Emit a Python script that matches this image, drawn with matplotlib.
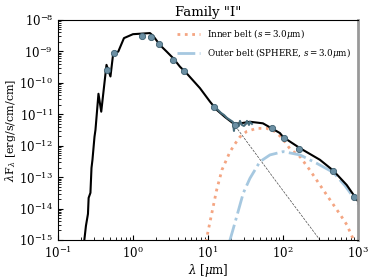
import numpy as np
import matplotlib
matplotlib.use('Agg')
import matplotlib.pyplot as plt

plt.rcParams['font.family'] = 'DejaVu Serif'
plt.rcParams['mathtext.fontset'] = 'dejavuserif'

# total model (star + belts), log10 values
tot_lx = [-0.653, -0.627, -0.60, -0.591, -0.567, -0.553, -0.54, -0.513, -0.50, -0.46,
          -0.423, -0.353, -0.30, -0.263, -0.196, -0.12, 0.0, 0.227, 0.27, 0.36,
          0.45, 0.537, 0.627, 0.716, 0.893, 1.027, 1.116, 1.227, 1.347, 1.46,
          1.56, 1.733, 1.96, 2.004, 2.227, 2.493, 2.67, 2.85, 3.004]
tot_ly = [-15.10, -14.55, -14.17, -13.66, -13.50, -12.71, -12.45, -11.72, -11.50, -10.35,
          -10.92, -9.43, -9.80, -9.06, -9.01, -8.58, -8.455, -8.42, -8.51, -8.80,
          -9.01, -9.22, -9.49, -9.70, -10.17, -10.60, -10.86, -11.09, -11.31, -11.28,
          -11.24, -11.29, -11.60, -11.73, -12.08, -12.45, -12.79, -13.25, -13.78]

# stellar photosphere (thin line, visible beyond ~20 micron)
star_lx = [1.337, 1.916, 2.493]
star_ly = [-11.287, -13.16, -15.0]

# inner belt
inner_lx = [0.973, 1.027, 1.116, 1.187, 1.293, 1.36, 1.427, 1.516, 1.649, 1.783,
            1.893, 1.987, 2.093, 2.227, 2.36, 2.493, 2.627, 2.76, 2.853, 2.933]
inner_ly = [-15.06, -14.43, -13.41, -12.77, -12.20, -11.945, -11.72, -11.55, -11.45, -11.45,
            -11.55, -11.75, -12.10, -12.35, -12.78, -13.25, -13.72, -14.18, -14.52, -14.95]

# outer belt
outer_lx = [1.287, 1.333, 1.383, 1.471, 1.56, 1.693, 1.827, 2.004, 2.227, 2.449,
            2.671, 2.827, 3.004]
outer_ly = [-15.06, -14.68, -14.26, -13.51, -13.04, -12.51, -12.295, -12.19, -12.295, -12.56,
            -12.85, -13.27, -13.85]

# IRS spectrum
irs_lx = [1.133, 1.173, 1.213, 1.253, 1.293, 1.333, 1.347, 1.36, 1.387, 1.413,
          1.427, 1.453, 1.48, 1.507, 1.52, 1.547, 1.56, 1.587]
irs_ly = [-10.863, -10.959, -11.023, -11.118, -11.182, -11.245, -11.532, -11.277, -11.309, -11.373,
          -11.213, -11.341, -11.373, -11.309, -11.213, -11.341, -11.245, -11.309]

# photometry
phot_lx = [-0.351, -0.249, 0.116, 0.24, 0.351, 0.537, 0.68, 1.084, 1.355, 1.86,
           2.013, 2.217, 2.671, 2.947]
phot_ly = [-9.591, -9.06, -8.509, -8.55, -8.773, -9.273, -9.623, -10.759, -11.34, -11.43,
           -11.754, -12.114, -12.804, -13.622]

p = lambda a: 10**np.array(a)

fig = plt.figure(figsize=(3.74, 2.8), dpi=100)
ax = fig.add_axes([0.155, 0.143, 0.802, 0.786])

ax.plot(p(star_lx), p(star_ly), color='k', lw=0.5, ls='--', alpha=0.7)
ax.plot(p(inner_lx), p(inner_ly), color='#f4a582', lw=2, ls=':',
        label=r'Inner belt ($s = 3.0\mu$m)')
ax.plot(p(outer_lx), p(outer_ly), color='#a6c8e0', lw=2, ls='-.',
        label=r'Outer belt (SPHERE, $s = 3.0\mu$m)')
ax.plot(p(tot_lx), p(tot_ly), color='k', lw=1.5)
ax.plot(p(irs_lx), p(irs_ly), color='#466c7c', lw=1.5)
ax.plot(p(phot_lx), p(phot_ly), 'o', ms=4.5, mfc='#6b8fa3', mec='#3e6070', mew=0.6)

ax.set_xscale('log')
ax.set_yscale('log')
ax.set_xlim(1e-1, 1e3)
ax.set_ylim(1e-15, 1e-8)
ax.tick_params(which='both', direction='in', labelsize=8.5)
ax.spines['right'].set_color('#999999')
ax.spines['right'].set_linewidth(2)
ax.set_xlabel(r'$\lambda$ [$\mu$m]', fontsize=8.5, labelpad=1)
ax.set_ylabel(r'$\lambda$F$_\lambda$ [erg/s/cm/cm]', fontsize=8, labelpad=1)
ax.set_title('Family "I"', fontsize=9.5, pad=3)
ax.legend(loc='upper right', frameon=False, fontsize=6.3, handlelength=2.6,
          borderaxespad=0.4, labelspacing=0.6)

fig.savefig('out.png', dpi=100)
